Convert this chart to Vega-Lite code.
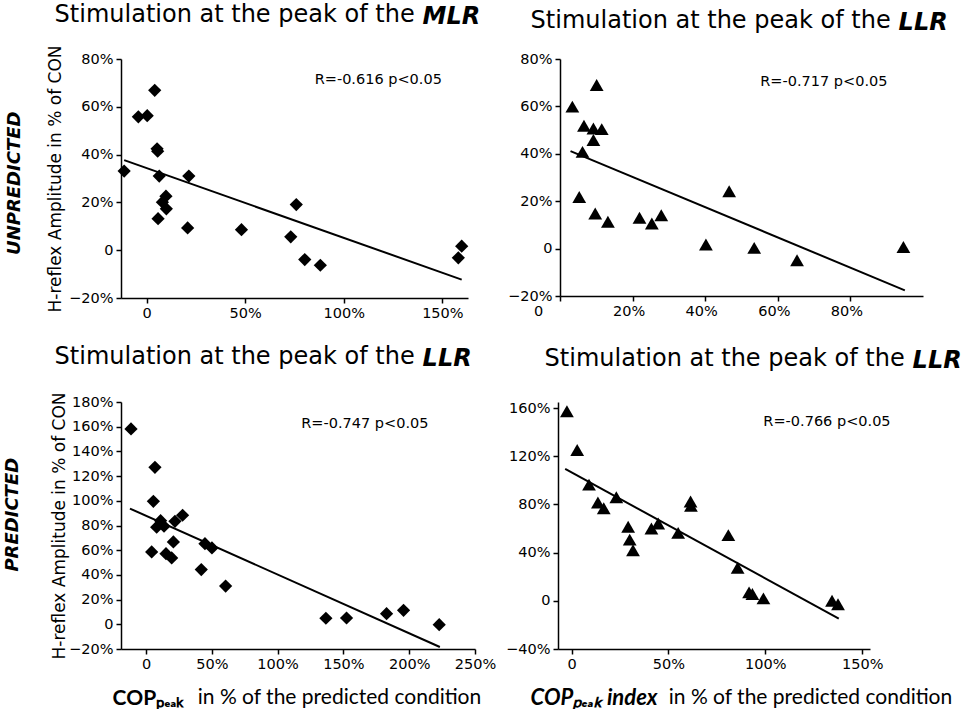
{
  "$schema": "https://vega.github.io/schema/vega-lite/v6.json",
  "padding": {"top": 2, "left": 3, "right": 0, "bottom": 0},
  "datasets": {
    "p1": [
      {"x": -0.114, "y": 0.331}, {"x": -0.042, "y": 0.558}, {"x": 0.003, "y": 0.563},
      {"x": 0.041, "y": 0.669}, {"x": 0.053, "y": 0.424}, {"x": 0.056, "y": 0.414},
      {"x": 0.064, "y": 0.31}, {"x": 0.058, "y": 0.132}, {"x": 0.08, "y": 0.201},
      {"x": 0.098, "y": 0.226}, {"x": 0.1, "y": 0.173}, {"x": 0.214, "y": 0.31},
      {"x": 0.208, "y": 0.093}, {"x": 0.481, "y": 0.086}, {"x": 0.731, "y": 0.056},
      {"x": 0.759, "y": 0.191}, {"x": 0.802, "y": -0.039}, {"x": 0.881, "y": -0.063},
      {"x": 1.581, "y": -0.032}, {"x": 1.598, "y": 0.017}
    ],
    "l1": [{"x": -0.114, "y": 0.377}, {"x": 1.598, "y": -0.123}],
    "a1": [{"x": 1.175, "y": 0.714, "label": "R=-0.616 p<0.05"}],
    "p2": [
      {"x": 0.034, "y": 0.599}, {"x": 0.101, "y": 0.69}, {"x": 0.066, "y": 0.518},
      {"x": 0.092, "y": 0.507}, {"x": 0.115, "y": 0.504}, {"x": 0.092, "y": 0.458},
      {"x": 0.062, "y": 0.408}, {"x": 0.053, "y": 0.218}, {"x": 0.097, "y": 0.148},
      {"x": 0.132, "y": 0.113}, {"x": 0.219, "y": 0.13}, {"x": 0.253, "y": 0.106},
      {"x": 0.279, "y": 0.141}, {"x": 0.402, "y": 0.017}, {"x": 0.466, "y": 0.242},
      {"x": 0.535, "y": 0.003}, {"x": 0.653, "y": -0.049}, {"x": 0.946, "y": 0.007}
    ],
    "l2": [{"x": 0.029, "y": 0.411}, {"x": 0.95, "y": -0.176}],
    "a2": [{"x": 0.727, "y": 0.704, "label": "R=-0.717 p<0.05"}],
    "p3": [
      {"x": -0.114, "y": 1.582}, {"x": 0.068, "y": 1.271}, {"x": 0.056, "y": 0.996},
      {"x": 0.111, "y": 0.839}, {"x": 0.081, "y": 0.786}, {"x": 0.137, "y": 0.794},
      {"x": 0.22, "y": 0.834}, {"x": 0.278, "y": 0.883}, {"x": 0.208, "y": 0.667},
      {"x": 0.043, "y": 0.586}, {"x": 0.152, "y": 0.572}, {"x": 0.195, "y": 0.537},
      {"x": 0.448, "y": 0.653}, {"x": 0.501, "y": 0.618}, {"x": 0.42, "y": 0.443},
      {"x": 0.605, "y": 0.31}, {"x": 1.367, "y": 0.049}, {"x": 1.524, "y": 0.051},
      {"x": 1.828, "y": 0.086}, {"x": 1.957, "y": 0.113}, {"x": 2.228, "y": -0.003}
    ],
    "l3": [{"x": -0.122, "y": 0.937}, {"x": 2.233, "y": -0.184}],
    "a3": [{"x": 1.663, "y": 1.622, "label": "R=-0.747 p<0.05"}],
    "p4": [
      {"x": -0.024, "y": 1.573}, {"x": 0.029, "y": 1.251}, {"x": 0.09, "y": 0.964},
      {"x": 0.136, "y": 0.816}, {"x": 0.166, "y": 0.768}, {"x": 0.231, "y": 0.86},
      {"x": 0.292, "y": 0.615}, {"x": 0.3, "y": 0.508}, {"x": 0.317, "y": 0.419},
      {"x": 0.412, "y": 0.6}, {"x": 0.447, "y": 0.642}, {"x": 0.55, "y": 0.564},
      {"x": 0.614, "y": 0.824}, {"x": 0.616, "y": 0.788}, {"x": 0.809, "y": 0.545},
      {"x": 0.857, "y": 0.274}, {"x": 0.916, "y": 0.07}, {"x": 0.933, "y": 0.056},
      {"x": 0.99, "y": 0.02}, {"x": 1.344, "y": 0.0}, {"x": 1.375, "y": -0.028}
    ],
    "l4": [{"x": -0.033, "y": 1.095}, {"x": 1.379, "y": -0.148}],
    "a4": [{"x": 1.318, "y": 1.48, "label": "R=-0.766 p<0.05"}]
  },
  "vconcat": [
    {
      "title": {"text": "UNPREDICTED", "orient": "left", "anchor": "middle", "fontSize": 18, "fontWeight": "bold", "fontStyle": "italic", "offset": 23, "dx": -22},
      "spacing": 26,
      "hconcat": [
        {
          "title": {"text": "MLR", "fontWeight": "bold", "fontStyle": "italic", "dx": 376, "dy": 30},
          "vconcat": [
            {
              "width": 347,
              "height": 239,
              "title": {"text": "Stimulation at the peak of the", "dx": 8, "offset": 18},
              "layer": [
                {
                  "data": {"name": "p1"},
                  "mark": {"type": "point", "shape": "diamond", "filled": true, "color": "black", "opacity": 1, "size": 175},
                  "encoding": {
                    "x": {"field": "x", "type": "quantitative", "scale": {"domain": [-0.13, 1.63], "nice": false, "zero": false},
                      "axis": {"title": null, "values": [0, 0.5, 1, 1.5], "tickCount": 20, "labelExpr": "datum.value == 0 ? '0' : format(datum.value, '.0%')"}},
                    "y": {"field": "y", "type": "quantitative", "scale": {"domain": [-0.2, 0.8], "nice": false},
                      "axis": {"title": "H-reflex Amplitude in % of CON", "values": [-0.2, 0, 0.2, 0.4, 0.6, 0.8], "tickCount": 20, "labelExpr": "datum.value == 0 ? '0' : format(datum.value, '.0%')"}}
                  }
                },
                {
                  "data": {"name": "l1"},
                  "mark": {"type": "line", "color": "black", "strokeWidth": 2},
                  "encoding": {"x": {"field": "x", "type": "quantitative"}, "y": {"field": "y", "type": "quantitative"}}
                },
                {
                  "data": {"name": "a1"},
                  "mark": {"type": "text", "fontSize": 14.5, "color": "black"},
                  "encoding": {"x": {"field": "x", "type": "quantitative"}, "y": {"field": "y", "type": "quantitative"}, "text": {"field": "label"}}
                }
              ]
            }
          ]
        },
        {
          "title": {"text": "LLR", "fontWeight": "bold", "fontStyle": "italic", "dx": 391, "dy": 30},
          "vconcat": [
            {
              "width": 363,
              "height": 237,
              "title": {"text": "Stimulation at the peak of the", "dx": 23, "offset": 18},
              "layer": [
                {
                  "data": {"name": "p2"},
                  "mark": {"type": "point", "shape": "triangle-up", "filled": true, "color": "black", "opacity": 1, "size": 190},
                  "encoding": {
                    "x": {"field": "x", "type": "quantitative", "scale": {"domain": [0, 1.0], "nice": false, "zero": false},
                      "axis": {"title": null, "values": [0, 0.2, 0.4, 0.6, 0.8], "tickCount": 20, "labelExpr": "datum.value == 0 ? '0' : format(datum.value, '.0%')",
                        "labelOffset": {"condition": {"test": "datum.value == 0", "value": -22}, "value": -4}}},
                    "y": {"field": "y", "type": "quantitative", "scale": {"domain": [-0.2, 0.8], "nice": false},
                      "axis": {"title": null, "values": [-0.2, 0, 0.2, 0.4, 0.6, 0.8], "tickCount": 20, "labelExpr": "datum.value == 0 ? '0' : format(datum.value, '.0%')"}}
                  }
                },
                {
                  "data": {"name": "l2"},
                  "mark": {"type": "line", "color": "black", "strokeWidth": 2},
                  "encoding": {"x": {"field": "x", "type": "quantitative"}, "y": {"field": "y", "type": "quantitative"}}
                },
                {
                  "data": {"name": "a2"},
                  "mark": {"type": "text", "fontSize": 14.5, "color": "black"},
                  "encoding": {"x": {"field": "x", "type": "quantitative"}, "y": {"field": "y", "type": "quantitative"}, "text": {"field": "label"}}
                }
              ]
            }
          ]
        }
      ]
    },
    {
      "title": {"text": "PREDICTED", "orient": "left", "anchor": "middle", "fontSize": 18, "fontWeight": "bold", "fontStyle": "italic", "offset": 29, "dx": 12},
      "spacing": 9,
      "hconcat": [
        {
          "title": {"text": "COPₚₑₐₖ", "orient": "bottom", "anchor": "start", "font": "Lato", "fontSize": 21, "fontWeight": "bold", "fontStyle": "normal", "dx": 62, "dy": -24},
          "vconcat": [
            {
              "title": {"text": "LLR", "fontWeight": "bold", "fontStyle": "italic", "dx": 372, "dy": 30},
              "vconcat": [
                {
                  "width": 354,
                  "height": 247,
                  "title": {"text": "Stimulation at the peak of the", "dx": 4, "offset": 23},
                  "layer": [
                    {
                      "data": {"name": "p3"},
                      "mark": {"type": "point", "shape": "diamond", "filled": true, "color": "black", "opacity": 1, "size": 175},
                      "encoding": {
                        "x": {"field": "x", "type": "quantitative", "scale": {"domain": [-0.19, 2.5], "nice": false, "zero": false},
                          "axis": {"title": "in % of the  predicted condition", "titleX": 218, "titlePadding": 16, "titleFont": "Lato", "titleFontSize": 21,
                            "values": [0, 0.5, 1, 1.5, 2, 2.5], "tickCount": 20, "labelExpr": "datum.value == 0 ? '0' : format(datum.value, '.0%')"}},
                        "y": {"field": "y", "type": "quantitative", "scale": {"domain": [-0.2, 1.8], "nice": false},
                          "axis": {"title": "H-reflex Amplitude in % of CON", "titlePadding": 0, "values": [-0.2, 0, 0.2, 0.4, 0.6, 0.8, 1.0, 1.2, 1.4, 1.6, 1.8], "tickCount": 20, "labelExpr": "datum.value == 0 ? '0' : format(datum.value, '.0%')"}}
                      }
                    },
                    {
                      "data": {"name": "l3"},
                      "mark": {"type": "line", "color": "black", "strokeWidth": 2},
                      "encoding": {"x": {"field": "x", "type": "quantitative"}, "y": {"field": "y", "type": "quantitative"}}
                    },
                    {
                      "data": {"name": "a3"},
                      "mark": {"type": "text", "fontSize": 14.5, "color": "black"},
                      "encoding": {"x": {"field": "x", "type": "quantitative"}, "y": {"field": "y", "type": "quantitative"}, "text": {"field": "label"}}
                    }
                  ]
                }
              ]
            }
          ]
        },
        {
          "title": {"text": "COPₚₑₐₖ index", "orient": "bottom", "anchor": "start", "font": "Lato", "fontSize": 22, "fontWeight": "bold", "fontStyle": "italic", "dx": 25, "dy": -24},
          "vconcat": [
            {
              "title": {"text": "LLR", "fontWeight": "bold", "fontStyle": "italic", "dx": 407, "dy": 30},
              "vconcat": [
                {
                  "width": 312,
                  "height": 247,
                  "title": {"text": "Stimulation at the peak of the", "dx": 39, "offset": 29},
                  "layer": [
                    {
                      "data": {"name": "p4"},
                      "mark": {"type": "point", "shape": "triangle-up", "filled": true, "color": "black", "opacity": 1, "size": 190},
                      "encoding": {
                        "x": {"field": "x", "type": "quantitative", "scale": {"domain": [-0.07, 1.54], "nice": false, "zero": false},
                          "axis": {"title": "in % of the predicted condition", "titleX": 252, "titlePadding": 16, "titleFont": "Lato", "titleFontSize": 21,
                            "values": [0, 0.5, 1, 1.5], "tickCount": 20, "labelExpr": "datum.value == 0 ? '0' : format(datum.value, '.0%')"}},
                        "y": {"field": "y", "type": "quantitative", "scale": {"domain": [-0.4, 1.65], "nice": false},
                          "axis": {"title": null, "values": [-0.4, 0, 0.4, 0.8, 1.2, 1.6], "tickCount": 20, "labelExpr": "datum.value == 0 ? '0' : format(datum.value, '.0%')"}}
                      }
                    },
                    {
                      "data": {"name": "l4"},
                      "mark": {"type": "line", "color": "black", "strokeWidth": 2},
                      "encoding": {"x": {"field": "x", "type": "quantitative"}, "y": {"field": "y", "type": "quantitative"}}
                    },
                    {
                      "data": {"name": "a4"},
                      "mark": {"type": "text", "fontSize": 14.5, "color": "black"},
                      "encoding": {"x": {"field": "x", "type": "quantitative"}, "y": {"field": "y", "type": "quantitative"}, "text": {"field": "label"}}
                    }
                  ]
                }
              ]
            }
          ]
        }
      ]
    }
  ],
  "spacing": 24,
  "config": {
    "view": {"stroke": null},
    "font": "DejaVu Sans",
    "text": {"font": "DejaVu Sans"},
    "axis": {
      "grid": false, "domainColor": "black", "domainWidth": 1.5, "tickColor": "black", "tickWidth": 1.5, "tickSize": 5,
      "labelColor": "black", "labelFont": "DejaVu Sans", "labelFontSize": 14.5, "labelPadding": 3, "labelFlush": false, "labelOverlap": false,
      "titleFont": "DejaVu Sans", "titleFontSize": 17, "titleFontWeight": "normal", "titleColor": "black"
    },
    "title": {"font": "DejaVu Sans", "fontSize": 24, "fontWeight": "normal", "color": "black", "anchor": "start"}
  }
}
